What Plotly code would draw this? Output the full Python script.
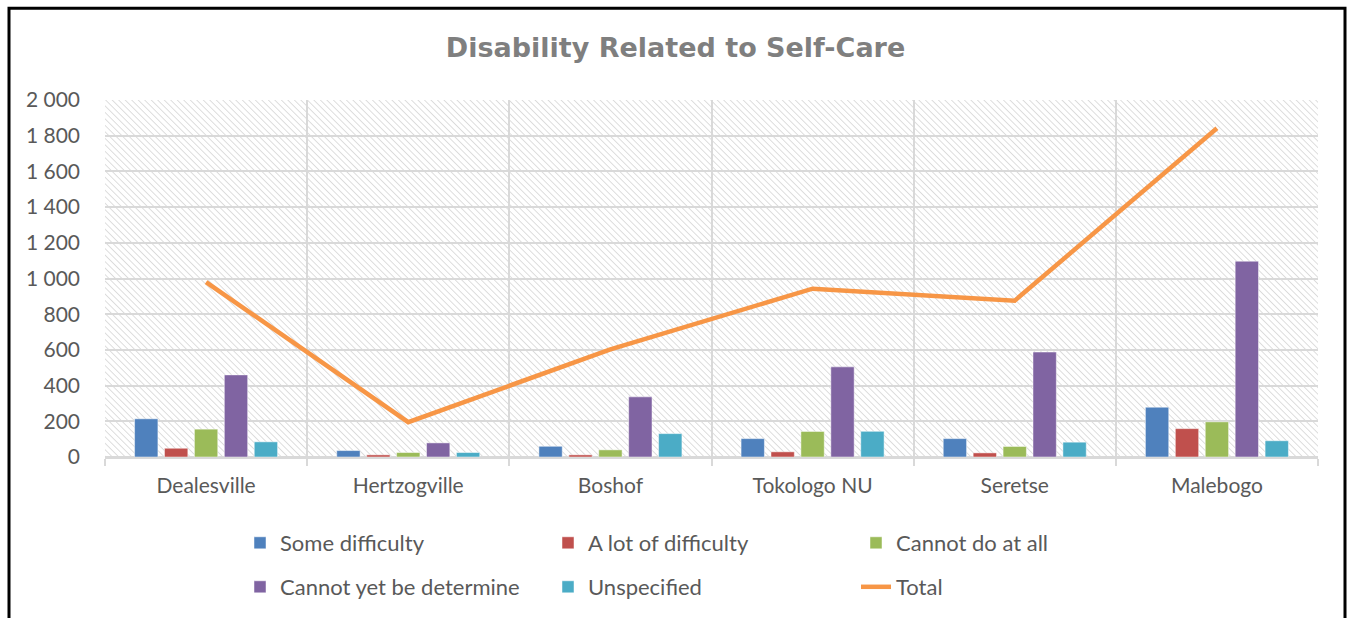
import base64
import plotly.graph_objects as go

categories = ["Dealesville", "Hertzogville", "Boshof", "Tokologo NU", "Seretse", "Malebogo"]
some_difficulty = [214, 36, 60, 103, 103, 279]
a_lot_of_difficulty = [49, 12, 12, 29, 23, 159]
cannot_do_at_all = [156, 25, 40, 143, 59, 197]
cannot_yet_be_determined = [460, 79, 337, 505, 588, 1097]
unspecified = [85, 25, 131, 144, 83, 91]
total = [980, 195, 603, 943, 876, 1842]

y_tick_vals = [0, 200, 400, 600, 800, 1000, 1200, 1400, 1600, 1800, 2000]
y_tick_text = ["0", "200", "400", "600", "800", "1 000", "1 200", "1 400", "1 600", "1 800", "2 000"]

W, H = 1351, 618
ML, MR, MT, MB = 105, 33, 100, 160
PW, PH = W - ML - MR, H - MT - MB

FONT = "Lato"
GREY_TXT = "#595959"
GRID = "#d9d9d9"

# hatched plot-area background (Excel "light downward diagonal")
svg = (
    f'<svg xmlns="http://www.w3.org/2000/svg" width="{PW}" height="{PH}" viewBox="0 0 {PW} {PH}" preserveAspectRatio="none">'
    '<defs><pattern id="p" width="4.6" height="4.6" patternUnits="userSpaceOnUse" patternTransform="rotate(-45)">'
    '<line x1="0" y1="0" x2="0" y2="4.6" stroke="#d0d0d0" stroke-width="1.4"/></pattern></defs>'
    f'<rect width="{PW}" height="{PH}" fill="white"/><rect width="{PW}" height="{PH}" fill="url(#p)"/></svg>'
)
svg_uri = "data:image/svg+xml;base64," + base64.b64encode(svg.encode()).decode()

fig = go.Figure()
series = [
    ("Some difficulty", some_difficulty, "#4F81BD", "legend"),
    ("A lot of difficulty", a_lot_of_difficulty, "#C0504D", "legend"),
    ("Cannot do at all", cannot_do_at_all, "#9BBB59", "legend"),
    ("Cannot yet be determine", cannot_yet_be_determined, "#8064A2", "legend2"),
    ("Unspecified", unspecified, "#4BACC6", "legend2"),
]
for name, vals, col, lg in series:
    fig.add_trace(go.Bar(
        x=categories, y=vals, name=name, legend=lg,
        marker=dict(color=col, line=dict(color="rgba(255,255,255,0.6)", width=0.8)),
    ))
fig.add_trace(go.Scatter(
    x=categories, y=total, name="Total", mode="lines", legend="legend2",
    line=dict(color="#F79646", width=4.5),
))

fig.add_layout_image(dict(
    source=svg_uri, xref="paper", yref="paper", x=0, y=1, sizex=1, sizey=1,
    xanchor="left", yanchor="top", sizing="stretch", layer="below",
))

# outer frame of the chart
fig.add_shape(type="rect", xref="paper", yref="paper",
              x0=(9 - ML) / PW, x1=(1345 - ML) / PW,
              y0=(H - MB - 640) / PH, y1=(H - MB - 8) / PH,
              line=dict(color="black", width=3), fillcolor="rgba(0,0,0,0)", layer="above")

legend_common = dict(
    orientation="h", xref="paper", yref="paper", xanchor="left", yanchor="middle",
    entrywidth=263, entrywidthmode="pixels", font=dict(family=FONT, size=22, color=GREY_TXT),
    bgcolor="rgba(0,0,0,0)", itemclick=False, itemdoubleclick=False,
)

fig.update_layout(
    width=W, height=H,
    margin=dict(l=ML, r=MR, t=MT, b=MB, pad=0),
    paper_bgcolor="white", plot_bgcolor="rgba(0,0,0,0)",
    barmode="group", bargap=0.26, bargroupgap=0.22,
    title=dict(text="<b>Disability Related to Self-Care</b>", x=0.5, xref="container",
               y=1 - 48 / H, yref="container", yanchor="middle", xanchor="center",
               font=dict(family="DejaVu Sans", size=27, color="#7f7f7f")),
    font=dict(family=FONT, color=GREY_TXT),
    legend=dict(x=(240 - ML) / PW, y=(H - MB - 543) / PH, **legend_common),
    legend2=dict(x=(240 - ML) / PW, y=(H - MB - 587) / PH, **legend_common),
    xaxis=dict(
        tickson="boundaries", showgrid=True, gridcolor=GRID, gridwidth=1.5,
        ticks="outside", ticklen=7, tickcolor=GRID, tickwidth=1.5,
        showline=True, linecolor=GRID, linewidth=1.5,
        tickfont=dict(family=FONT, size=21, color=GREY_TXT), ticklabelstandoff=9,
    ),
    yaxis=dict(
        range=[0, 2000], tickvals=y_tick_vals, ticktext=y_tick_text,
        showgrid=True, gridcolor=GRID, gridwidth=1.5, zeroline=True, zerolinecolor=GRID,
        zerolinewidth=1.5, ticks="", tickfont=dict(family=FONT, size=21, color=GREY_TXT),
        ticklabelstandoff=24, fixedrange=True,
    ),
)

fig.write_html("out.html", config={"displayModeBar": False},
               post_script="document.body.style.margin='0';")
